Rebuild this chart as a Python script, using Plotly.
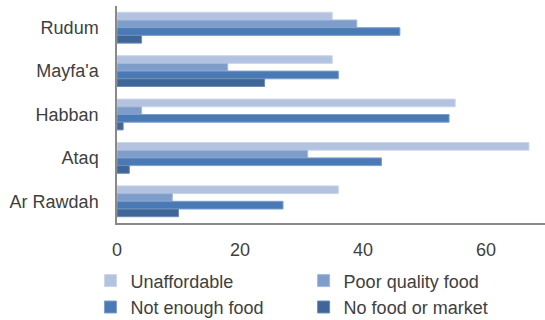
import plotly.graph_objects as go

# Districts (top to bottom) and the share of households reporting each reason
districts = ["Rudum", "Mayfa'a", "Habban", "Ataq", "Ar Rawdah"]

unaffordable = [35, 35, 55, 67, 36]
poor_quality_food = [39, 18, 4, 31, 9]
not_enough_food = [46, 36, 54, 43, 27]
no_food_or_market = [4, 24, 1, 2, 10]

x_ticks = [0, 20, 40, 60]

series = [
    ("Unaffordable", unaffordable, "#B3C3DF", "#CBD6EA", "legend"),
    ("Poor quality food", poor_quality_food, "#7F9DCA", "#A3B9DA", "legend2"),
    ("Not enough food", not_enough_food, "#4A7AB6", "#7D9FCB", "legend"),
    ("No food or market", no_food_or_market, "#3E6698", "#6F8DB3", "legend2"),
]

FONT = "Liberation Sans, Arial, sans-serif"
TEXT = "#404040"
AXIS = "#898989"

fig = go.Figure()
for name, values, fill, edge, leg in series:
    fig.add_trace(
        go.Bar(
            name=name,
            y=districts,
            x=values,
            orientation="h",
            marker=dict(color=fill, line=dict(color=edge, width=1)),
            legend=leg,
        )
    )

legend_style = dict(
    orientation="v",
    traceorder="normal",
    xanchor="left",
    yanchor="top",
    yref="container",
    y=0.18,
    bgcolor="rgba(0,0,0,0)",
    borderwidth=0,
    font=dict(family=FONT, size=18, color=TEXT),
    itemwidth=30,
)

fig.update_layout(
    width=545,
    height=320,
    margin=dict(l=117, r=0, t=6, b=97),
    paper_bgcolor="white",
    plot_bgcolor="white",
    barmode="group",
    bargap=0.29,
    bargroupgap=0,
    font=dict(family=FONT, size=18, color=TEXT),
    showlegend=True,
    legend=dict(legend_style, x=-0.062),
    legend2=dict(legend_style, x=0.436),
    xaxis=dict(
        range=[0, 69.6],
        tickvals=x_ticks,
        showgrid=False,
        zeroline=False,
        showline=True,
        linecolor=AXIS,
        linewidth=1.5,
        ticks="outside",
        ticklen=10,
        tickcolor="rgba(0,0,0,0)",
        tickfont=dict(family=FONT, size=18, color=TEXT),
    ),
    yaxis=dict(
        autorange="reversed",
        showgrid=False,
        zeroline=False,
        showline=True,
        linecolor=AXIS,
        linewidth=1.5,
        ticks="",
        ticklabelstandoff=13,
        tickfont=dict(family=FONT, size=18, color=TEXT),
    ),
)

fig.write_html("out.html")
